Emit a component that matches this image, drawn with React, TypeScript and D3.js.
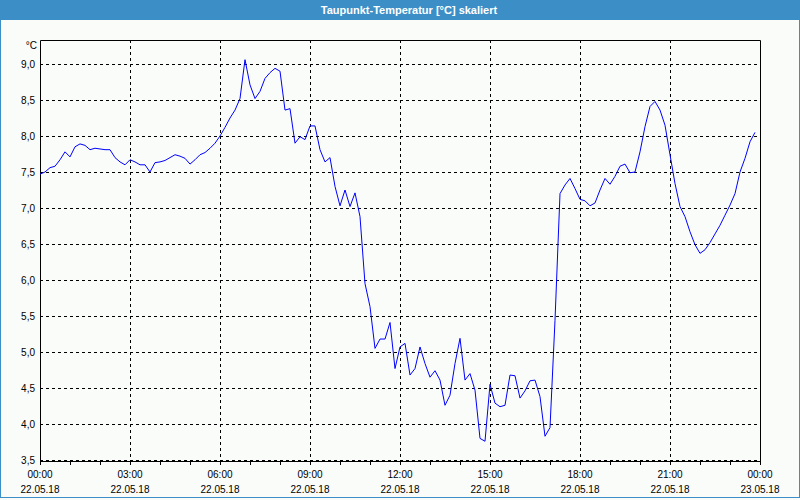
import { useRef, useEffect } from "react";
import * as d3 from "d3";

// dew point, one reading every 10 minutes from 22.05.18 00:00
const dewPoint = [
  7.47, 7.5, 7.56, 7.58, 7.67, 7.78, 7.71, 7.85, 7.89, 7.87, 7.81, 7.83,
  7.82, 7.81, 7.81, 7.7, 7.64, 7.6, 7.67, 7.64, 7.6, 7.6, 7.5, 7.63,
  7.64, 7.66, 7.7, 7.74, 7.72, 7.69, 7.61, 7.67, 7.74, 7.77, 7.83, 7.9,
  8.0, 8.12, 8.25, 8.36, 8.52, 9.06, 8.71, 8.52, 8.62, 8.8, 8.88, 8.94,
  8.9, 8.36, 8.38, 7.9, 7.99, 7.95, 8.14, 8.14, 7.81, 7.64, 7.7, 7.3,
  7.03, 7.25, 7.02, 7.21, 6.88, 5.95, 5.63, 5.05, 5.18, 5.18, 5.41, 4.77,
  5.07, 5.12, 4.68, 4.77, 5.07, 4.84, 4.65, 4.74, 4.61, 4.26, 4.4, 4.84,
  5.19, 4.61, 4.7, 4.47, 3.8, 3.76, 4.55, 4.29, 4.24, 4.26, 4.68, 4.67,
  4.36, 4.46, 4.6, 4.61, 4.38, 3.83, 3.95, 5.44, 7.2, 7.32, 7.41, 7.27,
  7.12, 7.1, 7.03, 7.07, 7.25, 7.41, 7.33, 7.44, 7.58, 7.61, 7.49, 7.5,
  7.78, 8.13, 8.41, 8.48, 8.36, 8.15, 7.74, 7.34, 7.02, 6.88, 6.67, 6.49,
  6.37, 6.42, 6.52, 6.64, 6.76, 6.9, 7.04, 7.2, 7.5, 7.69, 7.92, 8.05,
];
const stepMinutes = 10;

const yTicks = [3.5, 4.0, 4.5, 5.0, 5.5, 6.0, 6.5, 7.0, 7.5, 8.0, 8.5, 9.0];
const timeLabels = ["00:00", "03:00", "06:00", "09:00", "12:00", "15:00", "18:00", "21:00", "00:00"];
const dateLabels = ["22.05.18", "22.05.18", "22.05.18", "22.05.18", "22.05.18", "22.05.18", "22.05.18", "22.05.18", "23.05.18"];
const title = "Taupunkt-Temperatur [°C] skaliert";
const unit = "°C";

const App = () => {
  const svgRef = useRef(null);

  useEffect(() => {
    const svg = d3.select(svgRef.current);
    svg.selectAll("*").remove();

    const width = 800,
      height = 500,
      left = 40,
      right = 760,
      top = 40,
      bottom = 460,
      font = "'Liberation Sans', Arial, sans-serif";

    const x = d3.scaleLinear().domain([0, 24 * 60]).range([left, right]);
    const y = d3.scaleLinear().domain([3.5, 9.0]).range([bottom, 64]);

    // window background, title bar and border
    svg.append("rect").attr("width", width).attr("height", height).attr("fill", "#f9fcf9");
    svg.append("rect").attr("width", width).attr("height", 20).attr("fill", "#3c8fc6");
    svg
      .append("rect")
      .attr("x", 0.5)
      .attr("y", 19.5)
      .attr("width", width - 1)
      .attr("height", height - 22)
      .attr("fill", "none")
      .attr("stroke", "#3c8fc6");
    svg
      .append("text")
      .attr("x", 409)
      .attr("y", 10)
      .attr("text-anchor", "middle")
      .attr("dominant-baseline", "central")
      .attr("fill", "#ffffff")
      .attr("font-family", font)
      .attr("font-weight", "bold")
      .attr("font-size", 11)
      .text(title);

    const g = svg.append("g");

    // horizontal grid
    g.selectAll(".hgrid")
      .data(yTicks)
      .join("line")
      .attr("x1", left)
      .attr("x2", right)
      .attr("y1", (d) => Math.round(y(d)) + 0.5)
      .attr("y2", (d) => Math.round(y(d)) + 0.5)
      .attr("stroke", "#000")
      .attr("stroke-dasharray", "3,3");

    // vertical grid every 3 hours
    const majors = d3.range(0, 24 * 60 + 1, 180);
    g.selectAll(".vgrid")
      .data(majors.slice(1, -1))
      .join("line")
      .attr("x1", (d) => Math.round(x(d)) + 0.5)
      .attr("x2", (d) => Math.round(x(d)) + 0.5)
      .attr("y1", top)
      .attr("y2", bottom)
      .attr("stroke", "#000")
      .attr("stroke-dasharray", "3,3");

    // frame
    g.append("path")
      .attr("d", `M${left + 0.5},${bottom + 1.5}V${top + 0.5}H${right + 0.5}V${bottom + 1.5}Z`)
      .attr("fill", "none")
      .attr("stroke", "#000");

    // hourly ticks under the axis
    g.selectAll(".tick")
      .data(d3.range(0, 24 * 60 + 1, 60))
      .join("line")
      .attr("x1", (d) => Math.round(x(d)) + 0.5)
      .attr("x2", (d) => Math.round(x(d)) + 0.5)
      .attr("y1", bottom + 1)
      .attr("y2", bottom + 5)
      .attr("stroke", "#000");

    // y labels
    g.selectAll(".ylab")
      .data(yTicks)
      .join("text")
      .attr("x", 35)
      .attr("y", (d) => y(d))
      .attr("text-anchor", "end")
      .attr("dominant-baseline", "central")
      .attr("font-family", font)
      .attr("font-size", 10)
      .attr("fill", "#000")
      .text((d) => d3.format(".1f")(d).replace(".", ","));

    g.append("text")
      .attr("x", 37)
      .attr("y", 45)
      .attr("text-anchor", "end")
      .attr("dominant-baseline", "central")
      .attr("font-family", font)
      .attr("font-size", 10)
      .attr("fill", "#000")
      .text(unit);

    // x labels
    g.selectAll(".xtime")
      .data(majors)
      .join("text")
      .attr("x", (d) => x(d))
      .attr("y", 474)
      .attr("text-anchor", "middle")
      .attr("dominant-baseline", "central")
      .attr("font-family", font)
      .attr("font-size", 10)
      .attr("fill", "#000")
      .text((d, i) => timeLabels[i]);

    g.selectAll(".xdate")
      .data(majors)
      .join("text")
      .attr("x", (d) => x(d))
      .attr("y", 489)
      .attr("text-anchor", "middle")
      .attr("dominant-baseline", "central")
      .attr("font-family", font)
      .attr("font-size", 10)
      .attr("fill", "#000")
      .text((d, i) => dateLabels[i]);

    // the series
    const line = d3
      .line()
      .x((d, i) => x(i * stepMinutes))
      .y((d) => y(d));

    g.append("path")
      .datum(dewPoint)
      .attr("d", line)
      .attr("fill", "none")
      .attr("stroke", "#0000ff")
      .attr("stroke-width", 1);
  }, []);

  return (
    <svg
      ref={svgRef}
      width={800}
      height={500}
      style={{ position: "absolute", left: 0, top: 0 }}
    ></svg>
  );
};

export default App;
